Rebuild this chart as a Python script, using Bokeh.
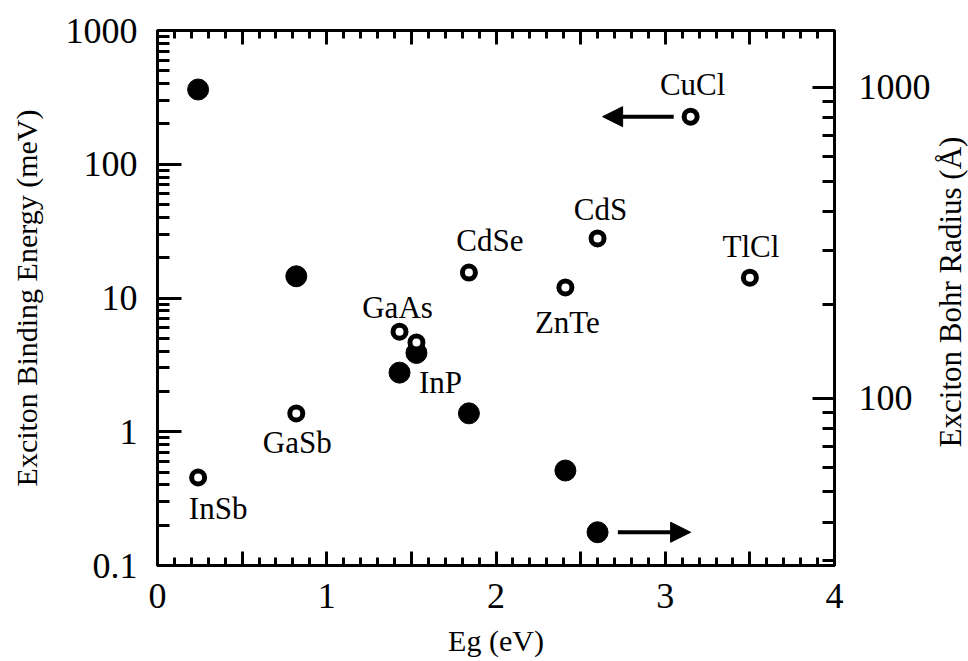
from bokeh.plotting import figure
from bokeh.layouts import row
from bokeh.models import (ColumnDataSource, Range1d, LogScale, LogAxis, LinearAxis,
                          FixedTicker, BasicTickFormatter, Arrow, NormalHead, Div)
from bokeh.core.properties import value
from bokeh.embed import file_html
from bokeh.resources import INLINE

# Semiconductor band gaps (eV)
materials = ["InSb", "GaSb", "GaAs", "InP", "CdSe", "ZnTe", "CdS", "CuCl", "TlCl"]
band_gap = [0.24, 0.82, 1.43, 1.53, 1.84, 2.41, 2.60, 3.15, 3.50]
# Exciton binding energy (meV), open circles, left axis
binding_energy = [0.455, 1.37, 5.6, 4.65, 15.5, 12.0, 27.9, 227, 14.2]

# Exciton Bohr radius (Angstrom), filled circles, right axis
radius_materials = ["InSb", "GaSb", "GaAs", "InP", "CdSe", "ZnTe", "CdS"]
radius_gap = [0.24, 0.82, 1.43, 1.53, 1.84, 2.41, 2.60]
bohr_radius = [985, 247, 121, 140, 89.5, 58.6, 37.1]

# Axis ticks
energy_major = [0.1, 1, 10, 100, 1000]
radius_major = [100, 1000]
gap_major = [0, 0.5, 1, 1.5, 2, 2.5, 3, 3.5, 4]

# Label offsets (screen px) for each material name
label_dx = [20, 1, -2, 24, 21, 2, 3, 2, 1]
label_dy = [31, 29, -24, 40, -32, 35, -29, -32, -31]

FONT = "Liberation Serif"
TITLE_STRIP = 35

def log_minors(lo_exp, hi_exp):
    out = []
    for e in range(lo_exp, hi_exp):
        for k in range(2, 10):
            out.append(k * 10.0 ** e)
    return out

energy_minor = log_minors(-1, 3)
radius_minor = [v for v in log_minors(1, 3) if v >= 30]
gap_minor = [round(i * 0.1, 1) for i in range(0, 41)]

p = figure(width=968 - TITLE_STRIP, height=661, x_range=Range1d(0, 4),
           y_range=Range1d(0.1, 1000), y_axis_type="log",
           output_backend="svg", toolbar_location=None,
           min_border_left=157, min_border_right=98, min_border_top=30,
           min_border_bottom=96, background_fill_color="white")
p.grid.visible = False
p.outline_line_color = "black"
p.outline_line_width = 3

p.extra_y_ranges = {"radius": Range1d(29, 1525)}
p.extra_y_scales = {"radius": LogScale()}

def style_axis(ax, major_in, minor_in, font_size="36px"):
    ax.axis_line_width = 3
    ax.axis_line_color = "black"
    ax.major_tick_in = major_in
    ax.major_tick_out = 0
    ax.minor_tick_in = minor_in
    ax.minor_tick_out = 0
    ax.major_tick_line_width = 3
    ax.minor_tick_line_width = 3
    ax.major_tick_line_color = "black"
    ax.minor_tick_line_color = "black"
    ax.major_label_text_font = FONT
    ax.major_label_text_font_size = font_size
    ax.major_label_text_color = "black"
    ax.axis_label_text_font = FONT
    ax.axis_label_text_font_size = "30px"
    ax.axis_label_text_font_style = "normal"
    ax.axis_label_text_color = "black"

# Left: binding energy
left = p.yaxis[0]
left.ticker = FixedTicker(ticks=energy_major, minor_ticks=energy_minor)
left.formatter = BasicTickFormatter(use_scientific=False)
left.axis_label = "Exciton Binding Energy (meV)"
style_axis(left, 24, 12)
left.major_label_standoff = 20
left.axis_label_standoff = 20

# Bottom: band gap
bottom = p.xaxis[0]
bottom.ticker = FixedTicker(ticks=gap_major, minor_ticks=gap_minor)
bottom.major_label_overrides = {0.5: "", 1.5: "", 2.5: "", 3.5: ""}
bottom.axis_label = "Eg (eV)"
style_axis(bottom, 14, 8)
bottom.major_label_standoff = 18
bottom.axis_label_standoff = 13

# Right: Bohr radius
right = LogAxis(y_range_name="radius",
                ticker=FixedTicker(ticks=radius_major, minor_ticks=radius_minor),
                formatter=BasicTickFormatter(use_scientific=False))
style_axis(right, 22, 12)
right.major_label_standoff = 24
p.add_layout(right, "right")

# Top: tick marks only
top = LinearAxis(ticker=FixedTicker(ticks=gap_major, minor_ticks=gap_minor))
style_axis(top, 14, 8, font_size="0px")
top.major_label_standoff = 0
p.add_layout(top, "above")

# Points
energy_src = ColumnDataSource(dict(x=band_gap, y=binding_energy, name=materials,
                                   dx=label_dx, dy=label_dy))
radius_src = ColumnDataSource(dict(x=radius_gap, y=bohr_radius, name=radius_materials))

p.scatter("x", "y", source=radius_src, y_range_name="radius", marker="circle",
          size=21, fill_color="black", line_color="black")
p.scatter("x", "y", source=energy_src, marker="circle", size=13,
          fill_color="white", line_color="black", line_width=5)

p.text("x", "y", text="name", source=energy_src, x_offset="dx", y_offset="dy",
       text_font=value(FONT), text_font_size=value("31px"), text_color="black",
       text_align="center", text_baseline="middle")

# Arrows pointing to the axis each series belongs to
i_cucl = materials.index("CuCl")
p.add_layout(Arrow(end=NormalHead(size=20, fill_color="black", line_color="black"),
                   x_start=band_gap[i_cucl] - 0.10, y_start=binding_energy[i_cucl],
                   x_end=band_gap[i_cucl] - 0.52, y_end=binding_energy[i_cucl],
                   line_width=4, line_color="black"))
i_cds = radius_materials.index("CdS")
p.add_layout(Arrow(end=NormalHead(size=20, fill_color="black", line_color="black"),
                   x_start=radius_gap[i_cds] + 0.12, y_start=bohr_radius[i_cds],
                   x_end=radius_gap[i_cds] + 0.55, y_end=bohr_radius[i_cds],
                   line_width=4, line_color="black", y_range_name="radius"))

# Right-hand axis title, reading bottom to top
right_title = Div(
    text=('<div style="position:relative;width:%dpx;height:661px;">'
          '<span style="position:absolute;left:50%%;top:292px;'
          'transform:translate(-50%%,-50%%) rotate(-90deg);white-space:nowrap;'
          "font-family:'Liberation Serif';font-size:31px;color:black;line-height:1;\">"
          'Exciton Bohr Radius (Å)</span></div>') % (TITLE_STRIP - 2),
    width=TITLE_STRIP, height=661, margin=0)

layout = row(p, right_title, spacing=0)
open("out.html", "w").write(file_html(layout, INLINE))
